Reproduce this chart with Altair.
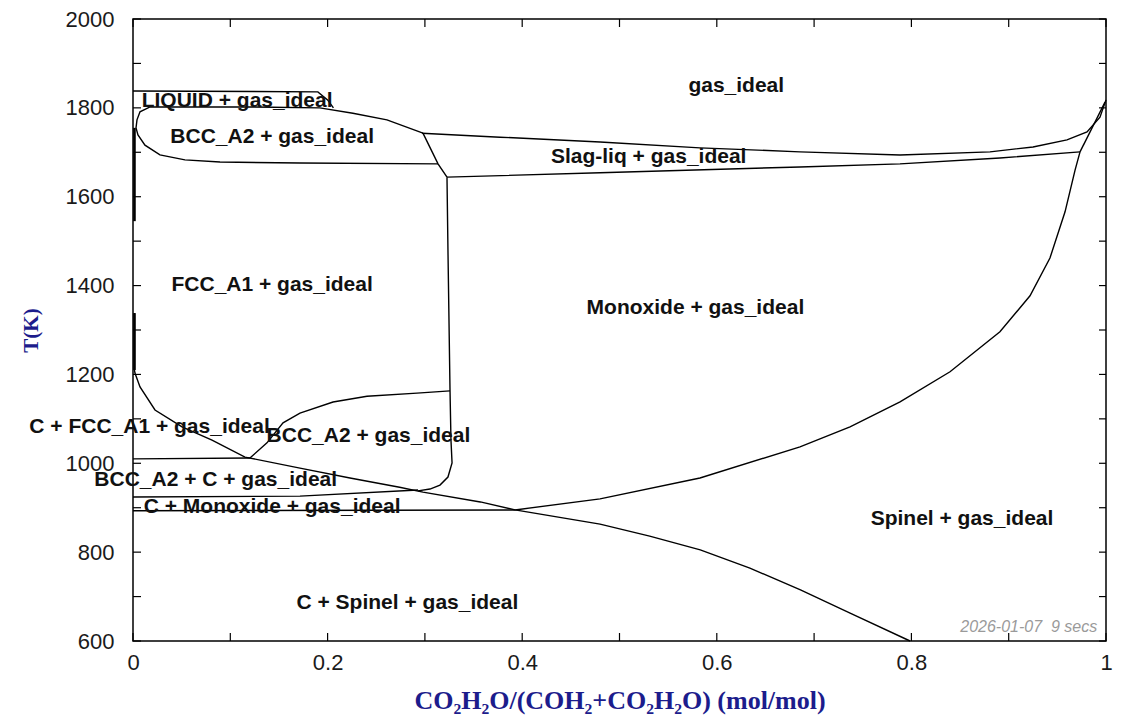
import altair as alt
import pandas as pd

W, H = 973, 622

# ---------------- phase boundary curves (x = mol/mol, T in K) ----------------
liquid_top_x = [0.0, 0.190, 0.200, 0.206]
liquid_top_t = [1838, 1836, 1818, 1800]

bcc_loop_x = [0.298, 0.261, 0.226, 0.192, 0.120, 0.0175, 0.0072, 0.0041, 0.0031,
              0.0051, 0.0123, 0.0277, 0.0534, 0.0894, 0.1716, 0.3135]
bcc_loop_t = [1743, 1773, 1788, 1800, 1802, 1802, 1791, 1773, 1755,
              1739, 1716, 1694, 1683, 1678, 1676, 1674]

edge_upper_x = [0.0015, 0.0015]
edge_upper_t = [1755, 1545]

cfcc_x = [0.0015, 0.0015, 0.002, 0.0072, 0.0226, 0.0504, 0.0812, 0.1151, 0.1716,
          0.223, 0.274, 0.298, 0.357, 0.3926, 0.48, 0.531, 0.583, 0.634, 0.686,
          0.737, 0.7986]
cfcc_t = [1338, 1210, 1203, 1172, 1120, 1082, 1052, 1014, 989,
          967, 946, 935, 913, 895, 863, 836, 805, 764, 715,
          663, 600]

fcc_bcc_vert_x = [0.3227, 0.3237, 0.3258, 0.3268, 0.3279, 0.3237, 0.3155, 0.3052, 0.2929]
fcc_bcc_vert_t = [1644, 1480, 1165, 1052, 1001, 969, 951, 942, 938]

diag_x = [0.298, 0.3135, 0.3227]
diag_t = [1743, 1674, 1644]

slag_upper_x = [0.297, 0.3772, 0.48, 0.5827, 0.6855, 0.7883, 0.8808, 0.925, 0.9599,
                0.9805, 0.9938, 1.0]
slag_upper_t = [1743, 1734, 1723, 1710, 1701, 1694, 1701, 1712, 1728,
                1746, 1779, 1818]

slag_lower_x = [0.3227, 0.48, 0.6855, 0.7883, 0.891, 0.9733]
slag_lower_t = [1644, 1654, 1667, 1674, 1687, 1701]

cross_x = [0.9733, 0.999]
cross_t = [1701, 1813]

spinel_x = [0.3926, 0.48, 0.5827, 0.6855, 0.7369, 0.7883, 0.8397, 0.891, 0.9219,
            0.9424, 0.9579, 0.9682, 0.9733]
spinel_t = [895, 920, 967, 1037, 1082, 1138, 1206, 1296, 1377,
            1462, 1566, 1660, 1701]

bcc_low_arc_x = [0.1202, 0.1377, 0.1542, 0.1716, 0.2056, 0.2405, 0.2919, 0.3258]
bcc_low_arc_t = [1012, 1046, 1091, 1113, 1138, 1151, 1158, 1163]

line_1010_x = [0.0, 0.1202]
line_1010_t = [1010, 1012]

bcc_c_low_x = [0.0, 0.1716, 0.2929]
bcc_c_low_t = [924, 926, 940]

c_mono_low_x = [0.0, 0.3926]
c_mono_low_t = [893, 895]

# ---------------- region labels ----------------
label_text = ["gas_ideal", "LIQUID + gas_ideal", "BCC_A2 + gas_ideal",
              "Slag-liq + gas_ideal", "FCC_A1 + gas_ideal", "Monoxide + gas_ideal",
              "C + FCC_A1 + gas_ideal", "BCC_A2 + gas_ideal", "BCC_A2 + C + gas_ideal",
              "C + Monoxide + gas_ideal", "Spinel + gas_ideal", "C + Spinel + gas_ideal"]
label_x = [0.620, 0.107, 0.143, 0.530, 0.143, 0.578, 0.017, 0.242, 0.085, 0.143, 0.852, 0.282]
label_t = [1849, 1815, 1734, 1689, 1401, 1350, 1082, 1061, 962, 902, 875, 686]

# ---------------- axis ticks ----------------
x_tick_vals = [0.0, 0.1, 0.2, 0.3, 0.4, 0.5, 0.6, 0.7, 0.8, 0.9, 1.0]
x_label_vals = [0.0, 0.2, 0.4, 0.6, 0.8, 1.0]
t_tick_vals = [600, 700, 800, 900, 1000, 1100, 1200, 1300, 1400, 1500, 1600, 1700,
               1800, 1900, 2000]
t_label_vals = [600, 800, 1000, 1200, 1400, 1600, 1800, 2000]

stamp_text = ["2026-01-07\u00a0\u00a09 secs"]
stamp_x = [0.991]
stamp_t = [631]

# ---------------- build tables ----------------
thin = [
    ("liquid_top", liquid_top_x, liquid_top_t),
    ("bcc_loop", bcc_loop_x, bcc_loop_t),
    ("cfcc", cfcc_x, cfcc_t),
    ("vert", fcc_bcc_vert_x, fcc_bcc_vert_t),
    ("diag", diag_x, diag_t),
    ("slag_up", slag_upper_x, slag_upper_t),
    ("slag_low", slag_lower_x, slag_lower_t),
    ("cross", cross_x, cross_t),
    ("spinel", spinel_x, spinel_t),
    ("bcc_arc", bcc_low_arc_x, bcc_low_arc_t),
    ("l1010", line_1010_x, line_1010_t),
    ("bcc_c_low", bcc_c_low_x, bcc_c_low_t),
    ("c_mono_low", c_mono_low_x, c_mono_low_t),
]
rows = []
for name, xs, ts in thin:
    for i, (a, b) in enumerate(zip(xs, ts)):
        rows.append({"seg": name, "i": i, "x": a, "T": b})
df_lines = pd.DataFrame(rows)

df_thick = pd.DataFrame({"seg": ["edge"] * len(edge_upper_x), "i": list(range(len(edge_upper_x))),
                         "x": edge_upper_x, "T": edge_upper_t})
df_thick2 = pd.DataFrame({"seg": ["edge2"] * 2, "i": [0, 1],
                          "x": cfcc_x[:2], "T": cfcc_t[:2]})
df_thick = pd.concat([df_thick, df_thick2], ignore_index=True)

df_labels = pd.DataFrame({"x": label_x, "T": label_t, "label": label_text})
df_stamp = pd.DataFrame({"x": stamp_x, "T": stamp_t, "label": stamp_text})
df_xt = pd.DataFrame({"x": x_tick_vals})
df_tt = pd.DataFrame({"T": t_tick_vals})

xscale = alt.Scale(domain=[0, 1], nice=False, zero=False)
tscale = alt.Scale(domain=[600, 2000], nice=False, zero=False)

xaxis = alt.Axis(values=x_label_vals, format="~g", ticks=False, tickSize=0, domain=False,
                 grid=False, labelFont="Liberation Sans", labelFontSize=22,
                 labelColor="#1a1a1a", labelPadding=11, labelFlush=False,
                 labelOverlap=False,
                 title="CO₂H₂O/(COH₂+CO₂H₂O) (mol/mol)", titleFont="Liberation Serif",
                 titleFontSize=26, titleFontWeight="bold", titleColor="#1c1c8c",
                 titlePadding=14)
taxis = alt.Axis(values=t_label_vals, format="d", ticks=False, tickSize=0, domain=False,
                 grid=False, labelFont="Liberation Sans", labelFontSize=22,
                 labelColor="#1a1a1a", labelPadding=19, labelOverlap=False,
                 title="T(K)", titleFont="Liberation Serif", titleFontSize=21,
                 titleFontWeight="bold", titleColor="#1c1c8c", titlePadding=24)

X = alt.X("x:Q", scale=xscale, axis=xaxis)
Y = alt.Y("T:Q", scale=tscale, axis=taxis)

lines = alt.Chart(df_lines).mark_line(color="black", strokeWidth=1.4).encode(
    x=X, y=Y, detail="seg:N", order="i:Q")
thick = alt.Chart(df_thick).mark_line(color="black", strokeWidth=2.6).encode(
    x=X, y=Y, detail="seg:N", order="i:Q")

labels = alt.Chart(df_labels).mark_text(
    font="Liberation Sans", fontSize=21, fontWeight="bold", color="#111111",
    align="center", baseline="middle").encode(x=X, y=Y, text="label:N")

stamp = alt.Chart(df_stamp).mark_text(
    font="Liberation Sans", fontSize=16, fontStyle="italic", color="#9a9a9a",
    align="right", baseline="middle").encode(x=X, y=Y, text="label:N")

tick_top = alt.Chart(df_xt).mark_rule(color="black", strokeWidth=1.2).encode(
    x=X, y=alt.value(0), y2=alt.value(8))
tick_bot = alt.Chart(df_xt).mark_rule(color="black", strokeWidth=1.2).encode(
    x=X, y=alt.value(H - 8), y2=alt.value(H))
tick_left = alt.Chart(df_tt).mark_rule(color="black", strokeWidth=1.2).encode(
    y=Y, x=alt.value(0), x2=alt.value(8))
tick_right = alt.Chart(df_tt).mark_rule(color="black", strokeWidth=1.2).encode(
    y=Y, x=alt.value(W - 7), x2=alt.value(W))

chart = alt.layer(tick_top, tick_bot, tick_left, tick_right, lines, thick, labels, stamp).properties(
    width=W, height=H,
    autosize=alt.AutoSizeParams(type="none"),
    padding={"left": 125, "top": 11, "right": 10, "bottom": 75},
    background="white",
).configure_view(stroke="black", strokeWidth=1.5).configure_axis(grid=False, domain=False)

chart.save("out.html", embed_options={"renderer": "svg", "actions": False})
